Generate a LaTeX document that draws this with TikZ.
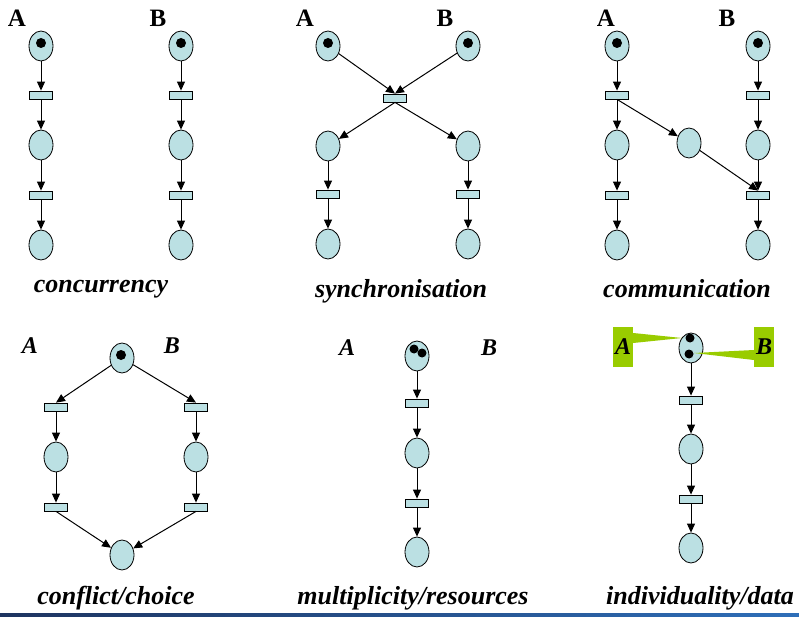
\documentclass[tikz,border=0pt]{standalone}
\usepackage{fontspec}
\setmainfont{Liberation Serif}
\usetikzlibrary{arrows.meta,shapes.geometric}
\definecolor{pfill}{RGB}{187,224,227}
\definecolor{callgreen}{RGB}{153,204,0}
\definecolor{navy}{RGB}{30,52,96}
\definecolor{lineblue}{RGB}{46,110,184}
\tikzset{
  place/.style={ellipse,draw=black,line width=0.8pt,fill=pfill,minimum width=24pt,minimum height=30pt,inner sep=0pt},
  trans/.style={rectangle,draw=black,line width=0.8pt,fill=pfill,minimum width=23pt,minimum height=8pt,inner sep=0pt},
  arc/.style={draw=black,line width=1pt,-{Triangle[length=9pt,width=8pt]}},
  token/.style={circle,fill=black,minimum size=10pt,inner sep=0pt},
  uplab/.style={font=\fontsize{25}{27}\selectfont\bfseries},
  itlab/.style={font=\fontsize{24}{26}\selectfont\bfseries\itshape},
  caption/.style={font=\fontsize{26}{28}\selectfont\bfseries\itshape,anchor=base},
}
\begin{document}
\begin{tikzpicture}[x=1pt,y=-1pt]
\useasboundingbox (0,0) rectangle (799,617);
% ---------- concurrency ----------
\node[uplab] (c-A) at (17,18) {A};
\node[uplab] (c-B) at (158,18) {B};
\foreach \col/\x in {a/41,b/181}{
  \node[place] (c-\col p1) at (\x,46) {};
  \node[token] (c-\col k1) at (\x,43) {};
  \node[trans] (c-\col t1) at (\x,95) {};
  \node[place] (c-\col p2) at (\x,145) {};
  \node[trans] (c-\col t2) at (\x,195) {};
  \node[place] (c-\col p3) at (\x,245) {};
  \draw[arc] (c-\col p1) -- (c-\col t1);
  \draw[arc] (c-\col t1) -- (c-\col p2);
  \draw[arc] (c-\col p2) -- (c-\col t2);
  \draw[arc] (c-\col t2) -- (c-\col p3);
}
\node[caption] (c-cap) at (101,292) {concurrency};
% ---------- synchronisation ----------
\node[uplab] (s-A) at (305,18) {A};
\node[uplab] (s-B) at (445,18) {B};
\node[trans] (s-t) at (395,98) {};
\foreach \col/\x in {a/328,b/468}{
  \node[place] (s-\col p1) at (\x,46) {};
  \node[token] (s-\col k1) at (\x,43) {};
  \node[place] (s-\col p2) at (\x,146) {};
  \node[trans] (s-\col t2) at (\x,194) {};
  \node[place] (s-\col p3) at (\x,244) {};
  \draw[arc] (s-\col p1) -- (s-t.north);
  \draw[arc] (s-t.south) -- (s-\col p2);
  \draw[arc] (s-\col p2) -- (s-\col t2);
  \draw[arc] (s-\col t2) -- (s-\col p3);
}
\node[caption] (s-cap) at (401,297) {synchronisation};
% ---------- communication ----------
\node[uplab] (m-A) at (606,18) {A};
\node[uplab] (m-B) at (727,18) {B};
\foreach \col/\x in {a/617,b/758}{
  \node[place] (m-\col p1) at (\x,46) {};
  \node[token] (m-\col k1) at (\x,43) {};
  \node[trans] (m-\col t1) at (\x,95) {};
  \node[place] (m-\col p2) at (\x,145) {};
  \node[trans] (m-\col t2) at (\x,195) {};
  \node[place] (m-\col p3) at (\x,245) {};
  \draw[arc] (m-\col p1) -- (m-\col t1);
  \draw[arc] (m-\col t1) -- (m-\col p2);
  \draw[arc] (m-\col p2) -- (m-\col t2);
  \draw[arc] (m-\col t2) -- (m-\col p3);
}
\node[place] (m-mid) at (689,143) {};
\draw[arc] (m-at1.south) -- (m-mid);
\draw[arc] (m-mid) -- (m-bt2.north);
\node[caption] (m-cap) at (687,297) {communication};
% ---------- conflict/choice ----------
\node[itlab] (f-A) at (30,346) {A};
\node[itlab] (f-B) at (172,346) {B};
\node[place] (f-top) at (122,358) {};
\node[token] (f-tk) at (121,355) {};
\node[place] (f-bot) at (122,555) {};
\foreach \col/\x in {a/56,b/196}{
  \node[trans] (f-\col t1) at (\x,407) {};
  \node[place] (f-\col p) at (\x,457) {};
  \node[trans] (f-\col t2) at (\x,507) {};
  \draw[arc] (f-top) -- (f-\col t1.north);
  \draw[arc] (f-\col t1) -- (f-\col p);
  \draw[arc] (f-\col p) -- (f-\col t2);
  \draw[arc] (f-\col t2.south) -- (f-bot);
}
\node[caption] (f-cap) at (116,604) {conflict/choice};
% ---------- multiplicity/resources ----------
\node[itlab] (r-A) at (347,348) {A};
\node[itlab] (r-B) at (489,348) {B};
\node[place] (r-p1) at (417,356) {};
\node[token,minimum size=9pt] (r-k1) at (414,349) {};
\node[token,minimum size=9pt] (r-k2) at (422,353) {};
\node[trans] (r-t1) at (417,403) {};
\node[place] (r-p2) at (417,453) {};
\node[trans] (r-t2) at (417,503) {};
\node[place] (r-p3) at (417,552) {};
\draw[arc] (r-p1) -- (r-t1);
\draw[arc] (r-t1) -- (r-p2);
\draw[arc] (r-p2) -- (r-t2);
\draw[arc] (r-t2) -- (r-p3);
\node[caption] (r-cap) at (413,604) {multiplicity/resources};
% ---------- individuality/data ----------
\node[place] (d-p1) at (691,348) {};
\node[token,minimum size=9pt] (d-k1) at (690,338) {};
\node[token,minimum size=9pt] (d-k2) at (689,354) {};
\node[trans] (d-t1) at (691,400) {};
\node[place] (d-p2) at (691,449) {};
\node[trans] (d-t2) at (691,499) {};
\node[place] (d-p3) at (691,548) {};
\draw[arc] (d-p1) -- (d-t1);
\draw[arc] (d-t1) -- (d-p2);
\draw[arc] (d-p2) -- (d-t2);
\draw[arc] (d-t2) -- (d-p3);
% callouts
\node[rectangle,fill=callgreen,minimum width=20pt,minimum height=40pt,inner sep=0pt] (d-boxA) at (623,347) {};
\node[rectangle,fill=callgreen,minimum width=20pt,minimum height=40pt,inner sep=0pt] (d-boxB) at (764,347) {};
\coordinate (d-tipA) at (682,338);
\coordinate (d-tipB) at (694,353);
\fill[callgreen] ([yshift=14pt]d-boxA.east) -- (d-tipA) -- ([yshift=4pt]d-boxA.east) -- cycle;
\fill[callgreen] ([yshift=-3pt]d-boxB.west) -- (d-tipB) -- ([yshift=-13pt]d-boxB.west) -- cycle;
\node[itlab] (d-A) at (d-boxA) {A};
\node[itlab] (d-B) at (d-boxB) {B};
\node[caption] (d-cap) at (700,604) {individuality/data};
% bottom rule
\shade[left color=navy,right color=lineblue] (0,613.5) rectangle (799,617);
\end{tikzpicture}
\end{document}
